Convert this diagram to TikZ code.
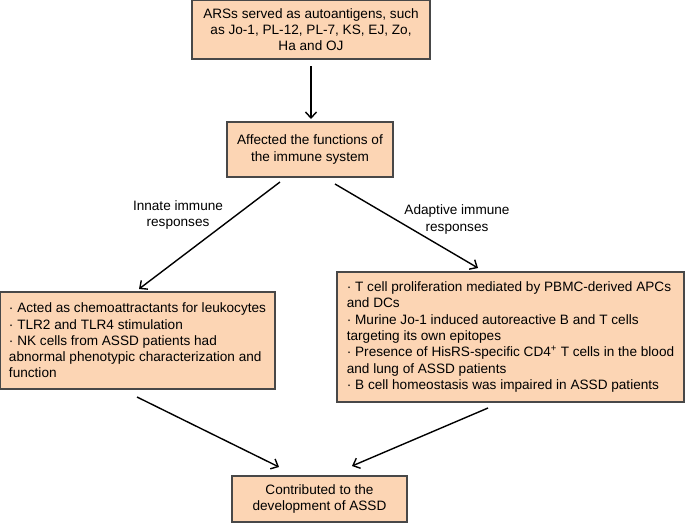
\documentclass[tikz,border=0pt]{standalone}
\usepackage{fontspec}
\setmainfont{Liberation Sans}
\usetikzlibrary{arrows.meta}
\definecolor{boxfill}{HTML}{FCD5B4}
\definecolor{boxline}{HTML}{484848}
\begin{document}
\begin{tikzpicture}[x=1pt,y=-1pt,
  box/.style={draw=boxline,line width=1.5pt,fill=boxfill,inner sep=0pt,
    font=\fontsize{13.6}{16.3}\selectfont},
  lbl/.style={align=center,inner sep=0pt,font=\fontsize{13.6}{16.3}\selectfont},
  arr/.style={draw=black,line width=1.4pt,-{Straight Barb[length=6pt,width=11pt]}}]
\useasboundingbox (0,0) rectangle (685,523);
\node[box,minimum width=238pt,minimum height=59pt,align=center] (top) at (311,29.5)
  {ARSs served as autoantigens, such\\as Jo-1, PL-12, PL-7, KS, EJ, Zo,\\Ha and OJ};
\node[box,minimum width=166pt,minimum height=55pt,align=center] (mid) at (310,149.5)
  {Affected the functions of\\the immune system};
\node[box,minimum width=275pt,minimum height=97pt,align=left] (left) at (137.5,340.5)
  {· Acted as chemoattractants for leukocytes\\
   · TLR2 and TLR4 stimulation\\
   · NK cells from ASSD patients had\\
   abnormal phenotypic characterization and\\
   function};
\node[box,minimum width=347pt,minimum height=130pt,align=left] (right) at (510.5,337)
  {· T cell proliferation mediated by PBMC-derived APCs\\
   and DCs\\
   · Murine Jo-1 induced autoreactive B and T cells\\
   targeting its own epitopes\\
   · Presence of HisRS-specific CD4\textsuperscript{+} T cells in the blood\\
   and lung of ASSD patients\\
   · B cell homeostasis was impaired in ASSD patients};
\node[box,minimum width=175pt,minimum height=46pt,align=center] (bot) at (319.5,499)
  {Contributed to the\\development of ASSD};
\node[lbl] (innate) at (178,215) {Innate immune\\responses};
\node[lbl] (adapt) at (457,219.5) {Adaptive immune\\responses};
\coordinate (a1) at (311,66);
\coordinate (a2) at (311,119);
\coordinate (b1) at (280,182);
\coordinate (b2) at (139,289);
\coordinate (c1) at (335,184);
\coordinate (c2) at (478,268);
\coordinate (d1) at (137,397);
\coordinate (d2) at (279,467);
\coordinate (e1) at (488,408);
\coordinate (e2) at (352,466);
\draw[arr] (a1) -- (a2);
\draw[arr] (b1) -- (b2);
\draw[arr] (c1) -- (c2);
\draw[arr] (d1) -- (d2);
\draw[arr] (e1) -- (e2);
\end{tikzpicture}
\end{document}
